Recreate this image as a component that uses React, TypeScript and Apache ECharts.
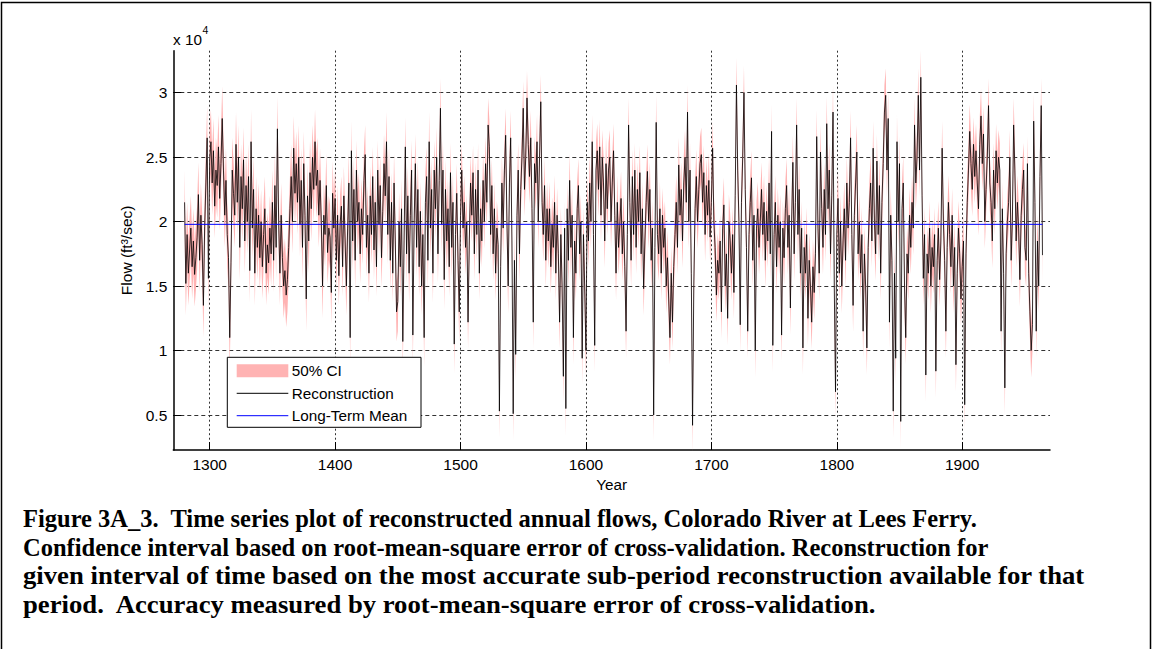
import React, { useEffect, useRef } from 'react';
import * as echarts from 'echarts';

// Reconstructed annual flow, in hundreds of ft3/sec, one value per year from 1280
const startYear = 1280;
const recon1280to1399 = [
  215, 152, 190, 160, 178, 195, 165, 185, 159, 172,
  188, 221, 170, 205, 182, 135, 196, 230, 265, 156,
  248, 262, 230, 255, 212, 240, 228, 258, 218, 245,
  280, 240, 205, 232, 190, 172, 110, 168, 240, 222,
  205, 260, 215, 250, 180, 235, 210, 248, 185, 228,
  200, 235, 162, 262, 195, 225, 160, 210, 180, 205,
  172, 200, 165, 190, 210, 160, 182, 168, 195, 175,
  215, 170, 228, 180, 272, 200, 160, 205, 172, 150,
  162, 143, 155, 180, 210, 235, 200, 257, 222, 245,
  215, 250, 198, 232, 180, 245, 205, 140, 220, 185,
  238, 210, 250, 225, 262, 228, 240, 205, 232, 200,
  150, 205, 190, 228, 176, 195, 188, 145, 222, 195,
];
const recon1400to1499 = [
  218, 170, 205, 158, 198, 212, 165, 220, 185, 150,
  195, 230, 110, 255, 185, 225, 170, 240, 200, 215,
  175, 210, 190, 232, 252, 180, 205, 160, 220, 190,
  235, 178, 215, 165, 240, 198, 228, 172, 208, 245,
  220, 262, 190, 235, 170, 215, 160, 230, 185, 130,
  138, 200, 165, 210, 107, 185, 258, 175, 220, 160,
  205, 240, 112, 198, 245, 180, 225, 165, 208, 150,
  190, 110, 215, 235, 170, 262, 195, 225, 160, 240,
  210, 250, 175, 232, 288, 198, 240, 155, 225, 185,
  210, 165, 238, 180, 215, 105, 190, 222, 170, 130,
];
const recon1500to1599 = [
  205, 240, 195, 215, 180, 200, 122, 185, 230, 205,
  238, 175, 225, 190, 240, 160, 210, 185, 232, 200,
  245, 215, 275, 258, 190, 228, 175, 210, 160, 195,
  182, 53, 165, 230, 195, 240, 267, 200, 150, 230,
  265, 185, 51, 170, 97, 205, 240, 175, 225, 250,
  288, 225, 250, 296, 260, 235, 265, 210, 122, 245,
  230, 262, 200, 250, 293, 215, 190, 228, 170, 210,
  185, 210, 165, 198, 180, 215, 160, 205, 175, 122,
  190, 150, 80, 195, 55, 210, 170, 232, 180, 205,
  110, 185, 160, 210, 228, 175, 200, 94, 190, 150,
];
const recon1600to1699 = [
  100, 215, 185, 230, 200, 262, 190, 104, 240, 255,
  225, 258, 205, 250, 230, 185, 245, 210, 240, 250,
  200, 230, 255, 205, 160, 215, 180, 198, 218, 175,
  200, 165, 115, 190, 275, 215, 170, 235, 190, 240,
  180, 225, 200, 238, 175, 210, 148, 185, 215, 239,
  200, 225, 170, 195, 50, 180, 277, 190, 175, 210,
  160, 205, 180, 195, 150, 172, 140, 110, 160, 122,
  165, 190, 215, 180, 244, 205, 225, 185, 230, 250,
  215, 285, 200, 240, 160, 42, 150, 210, 235, 200,
  225, 245, 252, 215, 238, 190, 228, 205, 232, 188,
];
const recon1700to1799 = [
  215, 257, 200, 180, 143, 170, 160, 185, 130, 195,
  213, 150, 175, 125, 200, 185, 160, 190, 145, 220,
  306, 240, 200, 120, 215, 250, 300, 225, 180, 115,
  190, 215, 234, 170, 205, 100, 195, 210, 180, 200,
  225, 190, 215, 170, 208, 185, 230, 175, 270, 104,
  190, 215, 165, 205, 180, 200, 112, 195, 172, 210,
  228, 180, 205, 133, 200, 246, 175, 215, 275, 190,
  225, 160, 195, 102, 180, 160, 190, 125, 170, 150,
  122, 165, 145, 175, 266, 195, 160, 254, 210, 180,
  225, 190, 276, 210, 240, 175, 220, 285, 150, 68,
];
const recon1800to1899 = [
  190, 218, 160, 200, 150, 185, 210, 170, 230, 195,
  215, 265, 190, 135, 205, 230, 254, 175, 200, 160,
  190, 115, 175, 150, 102, 180, 210, 230, 185, 257,
  200, 175, 247, 190, 228, 160, 215, 245, 285, 298,
  240, 280, 122, 205, 170, 53, 160, 94, 262, 200,
  245, 45, 210, 230, 150, 110, 175, 160, 205, 180,
  215, 195, 275, 230, 250, 298, 240, 312, 220, 156,
  190, 81, 175, 160, 195, 150, 180, 165, 190, 84,
  170, 195, 155, 185, 257, 200, 170, 115, 180, 215,
  190, 165, 205, 150, 180, 89, 160, 195, 175, 140,
];
const recon1900to1964 = [
  165, 185, 58, 175, 215, 240, 270, 245, 225, 260,
  235, 255, 230, 210, 260, 282, 245, 268, 200, 225,
  250, 290, 230, 215, 185, 240, 210, 255, 230, 250,
  240, 115, 210, 160, 71, 175, 200, 215, 250, 170,
  200, 275, 240, 185, 215, 195, 155, 205, 225, 240,
  180, 170, 245, 160, 130, 100, 120, 278, 215, 115,
  185, 150, 235, 290, 174,
];

// 50% confidence interval half-width (ft3/sec) for each sub-period reconstruction
const ciStartYears = [1280, 1400, 1500];
const ciHalfWidths = [2500, 2300, 2100];

const longTermMean = 19790;
const xTickYears = [1300, 1400, 1500, 1600, 1700, 1800, 1900];
const yTickValues = [5000, 10000, 15000, 20000, 25000, 30000];
const legendLabels = ['50% CI', 'Reconstruction', 'Long-Term Mean'];

const captionLines = [
  'Figure 3A_3.  Time series plot of reconstructed annual flows, Colorado River at Lees Ferry.',
  'Confidence interval based on root-mean-square error of cross-validation. Reconstruction for',
  'given interval of time based on the most accurate sub-period reconstruction available for that',
  'period.  Accuracy measured by root-mean-square error of cross-validation.',
];
const captionLineScaleX = [1.0, 1.0, 1.09, 1.09];

const reconHundreds = [
  ...recon1280to1399,
  ...recon1400to1499,
  ...recon1500to1599,
  ...recon1600to1699,
  ...recon1700to1799,
  ...recon1800to1899,
  ...recon1900to1964,
];

const CI_COLOR = '#ffb3b3';
const MEAN_COLOR = '#0000ff';
const FONT = '"Liberation Sans", Arial, sans-serif';

export default function App() {
  const ref = useRef<HTMLDivElement>(null);

  useEffect(() => {
    if (!ref.current) return;
    const chart = echarts.init(ref.current, null, { renderer: 'svg' });

    const halfWidthFor = (yr: number) => {
      let w = ciHalfWidths[0];
      ciStartYears.forEach((y, k) => {
        if (yr >= y) w = ciHalfWidths[k];
      });
      return w;
    };
    const reconData = reconHundreds.map((v, i) => [startYear + i, v * 100]);
    const endYear = startYear + reconHundreds.length - 1;
    const lowerData = reconData.map(([yr, v]) => [yr, v - halfWidthFor(yr)]);
    const upperData = reconData.map(([yr, v]) => [yr, v + halfWidthFor(yr)]);
    const bandData = reconData.map(([yr, v]) => [yr, v - halfWidthFor(yr), v + halfWidthFor(yr)]);
    const meanData = [
      [startYear, longTermMean],
      [endYear, longTermMean],
    ];

    // legend box (drawn as graphics, MATLAB style)
    const lgX = 227.3;
    const lgY = 357.3;
    const rowY = [370.7, 393.3, 415.7];
    const keyX0 = 236.7;
    const keyX1 = 288.3;
    const textX = 291.7;
    const LZ = 100;
    const textStyleBase = {
      font: `15.3px ${FONT}`,
      fill: '#000',
      textAlign: 'left',
      textVerticalAlign: 'middle',
      align: 'left',
      verticalAlign: 'middle',
    };
    const legendElements = [
      {
        type: 'rect',
        silent: true,
        z: LZ,
        shape: { x: lgX, y: lgY, width: 193.7, height: 70 },
        style: { fill: '#fff', stroke: '#000', lineWidth: 1 },
      },
      {
        type: 'rect',
        silent: true,
        z: LZ + 1,
        shape: { x: keyX0, y: rowY[0] - 6.5, width: keyX1 - keyX0, height: 13 },
        style: { fill: CI_COLOR },
      },
      {
        type: 'line',
        silent: true,
        z: LZ + 1,
        shape: { x1: keyX0, y1: rowY[1], x2: keyX1, y2: rowY[1] },
        style: { stroke: '#000', lineWidth: 1 },
      },
      {
        type: 'line',
        silent: true,
        z: LZ + 1,
        shape: { x1: keyX0, y1: rowY[2], x2: keyX1, y2: rowY[2] },
        style: { stroke: MEAN_COLOR, lineWidth: 1 },
      },
      ...legendLabels.map((label, i) => ({
        type: 'text',
        silent: true,
        z: LZ + 1,
        style: { ...textStyleBase, text: label, x: textX, y: rowY[i] },
      })),
    ];

    const option: any = {
      animation: false,
      backgroundColor: '#ffffff',
      textStyle: { fontFamily: FONT, color: '#000' },
      grid: {
        left: 173.3,
        top: 50.7,
        width: 876.7,
        height: 399.3,
        containLabel: false,
        outerBoundsMode: 'none',
      },
      xAxis: {
        type: 'value',
        min: 1271,
        max: 1970,
        name: 'Year',
        nameLocation: 'middle',
        nameGap: 26,
        nameTextStyle: { fontSize: 15.3, color: '#000' },
        axisLine: { show: true, lineStyle: { color: '#000', width: 1.5 } },
        axisTick: { show: true, inside: true, length: 8, customValues: xTickYears, lineStyle: { color: '#000' } },
        axisLabel: {
          customValues: xTickYears,
          fontSize: 15.5,
          color: '#000',
          margin: 6,
          formatter: (v: number) => String(v),
        },
        splitLine: { show: true, lineStyle: { color: '#333', type: [2, 2.5], width: 1 } },
      },
      yAxis: {
        type: 'value',
        min: 2285,
        max: 33260,
        name: 'Flow (ft³/sec)',
        nameLocation: 'middle',
        nameGap: 30,
        nameTextStyle: { fontSize: 15.5, color: '#000' },
        axisLine: { show: true, lineStyle: { color: '#000', width: 1.5 } },
        axisTick: { show: true, inside: true, length: 8, customValues: yTickValues, lineStyle: { color: '#000' } },
        axisLabel: {
          customValues: yTickValues,
          fontSize: 15.5,
          color: '#000',
          margin: 6,
          formatter: (v: number) => String(v / 10000),
        },
        splitLine: { show: true, lineStyle: { color: '#333', type: [4, 3], width: 1 } },
      },
      series: [
        {
          name: '50% CI',
          type: 'custom',
          data: bandData,
          encode: { x: 0, y: [1, 2] },
          itemStyle: { color: CI_COLOR },
          silent: true,
          z: 1,
          renderItem: (params: any, api: any) => {
            if (params.dataIndex !== 0) return null;
            const up = upperData.map((d) => api.coord(d));
            const lo = lowerData.map((d) => api.coord(d)).reverse();
            return {
              type: 'polygon',
              shape: { points: up.concat(lo) },
              style: { fill: CI_COLOR, stroke: null },
            };
          },
        },
        {
          name: 'Reconstruction',
          type: 'line',
          data: reconData,
          symbol: 'none',
          showSymbol: false,
          z: 3,
          color: '#000',
          lineStyle: { color: '#000', width: 0.8 },
          itemStyle: { color: '#000' },
        },
        {
          name: 'Long-Term Mean',
          type: 'line',
          data: meanData,
          symbol: 'none',
          showSymbol: false,
          z: 4,
          color: MEAN_COLOR,
          lineStyle: { color: MEAN_COLOR, width: 1 },
          itemStyle: { color: MEAN_COLOR },
        },
      ],
      graphic: {
        z: 100,
        elements: [
          {
            type: 'rect',
            silent: true,
            shape: { x: 1.5, y: 2.5, width: 1149, height: 700 },
            style: { fill: 'none', stroke: '#000', lineWidth: 1.5 },
          },
          ...legendElements,
          {
            type: 'text',
            silent: true,
            style: { ...textStyleBase, text: 'x 10', x: 173, y: 39 },
          },
          {
            type: 'text',
            silent: true,
            style: { ...textStyleBase, font: `10.5px ${FONT}`, text: '4', x: 202.5, y: 30 },
          },
          ...captionLines.map((line, i) => ({
            type: 'text',
            silent: true,
            x: 23,
            y: 518 + i * 29,
            scaleX: captionLineScaleX[i],
            style: {
              ...textStyleBase,
              text: line,
              x: 0,
              y: 0,
              font: 'bold 24.5px "Liberation Serif", "Times New Roman", serif',
            },
          })),
        ],
      },
    };

    chart.setOption(option);
    return () => chart.dispose();
  }, []);

  return (
    <div
      ref={ref}
      style={{ position: 'fixed', left: 0, top: 0, width: 1154, height: 649, background: '#fff' }}
    />
  );
}
